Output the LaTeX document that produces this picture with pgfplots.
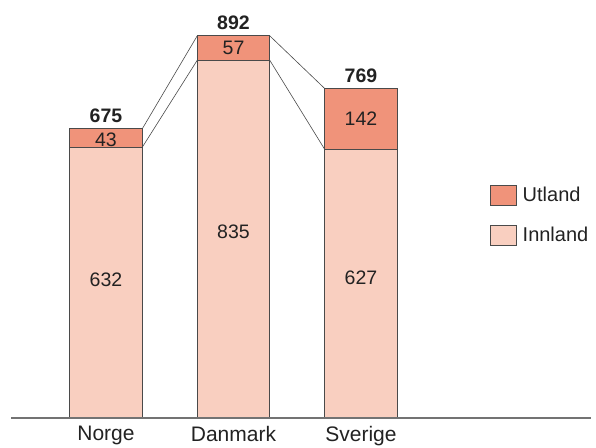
\documentclass[border=0pt]{standalone}
\usepackage{pgfplots}
\pgfplotsset{compat=1.18}
\usepackage{fontspec}
\setmainfont{Liberation Sans}
\definecolor{utland}{HTML}{F0937A}
\definecolor{innland}{HTML}{F9CFC0}
\definecolor{edge}{HTML}{4A4A4A}
\definecolor{txt}{HTML}{222222}
\begin{document}
\begin{tikzpicture}
\begin{axis}[
  at={(11pt,29pt)}, anchor=south west,
  scale only axis,
  width=585pt, height=407pt,
  xmin=-0.745, xmax=3.843,
  ymin=0, ymax=950,
  axis x line=bottom,
  axis line style={draw=none},
  axis y line=none,
  ybar stacked,
  bar width=0.569,
  xtick={0,1,2},
  xticklabels={Norge,Danmark,Sverige},
  major tick length=0pt,
  xticklabel style={font=\fontsize{21}{25}\selectfont, text=txt, yshift=-4.5pt},
  clip=false,
  legend style={at={(axis cs:3.01,544)}, anchor=north west, draw=none, fill=none,
    font=\fontsize{20}{24}\selectfont, text=txt, row sep=19pt, inner sep=0pt,
    legend cell align=left, nodes={inner xsep=6pt}},
  legend image code/.code={\draw[#1] (0pt,-10pt) rectangle (26pt,10pt);},
  reverse legend,
]
\addplot[fill=innland, draw=edge, line width=0.7pt] coordinates {(0,632) (1,835) (2,627)};
\addlegendentry{Innland}
\addplot[fill=utland, draw=edge, line width=0.7pt] coordinates {(0,43) (1,57) (2,142)};
\addlegendentry{Utland}
\end{axis}
\begin{axis}[
  at={(11pt,29pt)}, anchor=south west,
  scale only axis,
  width=585pt, height=407pt,
  xmin=-0.745, xmax=3.843,
  ymin=0, ymax=950,
  hide axis, clip=false,
]
\addplot[draw=gray!90!black, line width=1.1pt, mark=none] coordinates {(-0.745,0) (3.80,0)};
\addplot[draw=edge, line width=0.6pt, mark=none] coordinates {(0.2845,675) (0.7155,892)};
\addplot[draw=edge, line width=0.6pt, mark=none] coordinates {(0.2845,632) (0.7155,835)};
\addplot[draw=edge, line width=0.6pt, mark=none] coordinates {(1.2845,892) (1.7155,769)};
\addplot[draw=edge, line width=0.6pt, mark=none] coordinates {(1.2845,835) (1.7155,627)};
\begin{scope}[every node/.style={font=\fontsize{19.5}{23}\selectfont, text=txt}]
\node at (axis cs:0,323.3) {632};
\node at (axis cs:1,433.5) {835};
\node at (axis cs:2,326.8) {627};
\node at (axis cs:0,650) {43};
\node at (axis cs:1,863) {57};
\node at (axis cs:2,698.4) {142};
\end{scope}
\begin{scope}[every node/.style={font=\fontsize{19.5}{23}\selectfont\bfseries, text=txt, anchor=base, yshift=6.5pt}]
\node at (axis cs:0,675) {675};
\node at (axis cs:1,892) {892};
\node at (axis cs:2,769) {769};
\end{scope}
\end{axis}
\pgfresetboundingbox
\path[use as bounding box] (0,0) rectangle (596pt,447pt);
\end{tikzpicture}
\end{document}
